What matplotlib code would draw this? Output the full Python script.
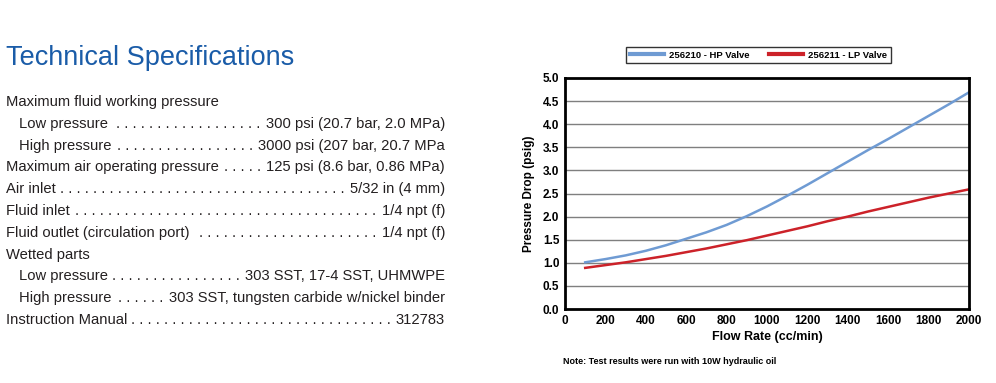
import numpy as np
import matplotlib
matplotlib.use("Agg")
import matplotlib.pyplot as plt
from matplotlib import font_manager

# font condensato se disponibile
nomi = set(f.name for f in font_manager.fontManager.ttflist)
if "Liberation Sans Narrow" in nomi:
    FONT = "Liberation Sans Narrow"
else:
    FONT = "Liberation Sans"
plt.rcParams['font.family'] = [FONT, 'DejaVu Sans']

# dati del grafico
portata = [100, 200, 300, 400, 500, 600, 700, 800, 900, 1000,
           1100, 1200, 1300, 1400, 1500, 1600, 1700, 1800, 1900, 2000]
hp_valve = [1.01, 1.08, 1.16, 1.26, 1.38, 1.52, 1.66, 1.82, 2.01, 2.22,
            2.45, 2.69, 2.94, 3.19, 3.44, 3.68, 3.93, 4.18, 4.43, 4.69]
lp_valve = [0.89, 0.95, 1.01, 1.08, 1.15, 1.23, 1.31, 1.40, 1.49, 1.59,
            1.69, 1.79, 1.90, 2.00, 2.11, 2.21, 2.31, 2.41, 2.50, 2.59]
x_ticks = [0, 200, 400, 600, 800, 1000, 1200, 1400, 1600, 1800, 2000]
y_ticks = [0.0, 0.5, 1.0, 1.5, 2.0, 2.5, 3.0, 3.5, 4.0, 4.5, 5.0]

# specifiche tecniche (etichetta, valore, rientro)
spec_label = ["Maximum fluid working pressure", "Low pressure", "High pressure",
              "Maximum air operating pressure", "Air inlet", "Fluid inlet",
              "Fluid outlet (circulation port)", "Wetted parts", "Low pressure",
              "High pressure", "Instruction Manual"]
spec_value = ["", "300 psi (20.7 bar, 2.0 MPa)", "3000 psi (207 bar, 20.7 MPa",
              "125 psi (8.6 bar, 0.86 MPa)", "5/32 in (4 mm)", "1/4 npt (f)",
              "1/4 npt (f)", "", "303 SST, 17-4 SST, UHMWPE",
              "303 SST, tungsten carbide w/nickel binder", "312783"]
spec_indent = [0, 1, 1, 0, 0, 0, 0, 0, 1, 1, 0]

W, H = 996, 383
fig = plt.figure(figsize=(W / 100, H / 100), dpi=100)
fig.patch.set_facecolor("white")

# titolo
fig.text(6 / W, 1 - 58 / H, "Technical Specifications", color="#1a5ca8",
         fontsize=19.5, va="center", ha="left")

# righe di testo
y0 = 102
passo = 21.8
fs = 10.6
fig.canvas.draw()
rend = fig.canvas.get_renderer()
x_dest = 445 / W
prova = fig.text(0, 0, ". " * 10, fontsize=fs)
w10 = prova.get_window_extent(rend).width / 10
prova.remove()
for i in range(len(spec_label)):
    y = 1 - (y0 + i * passo) / H
    xl = (6 + 13 * spec_indent[i]) / W
    t1 = fig.text(xl, y, spec_label[i], fontsize=fs, va="center", ha="left", color="#231f20")
    if spec_value[i] == "":
        continue
    t2 = fig.text(x_dest, y, spec_value[i], fontsize=fs, va="center", ha="right", color="#231f20")
    b1 = t1.get_window_extent(rend)
    b2 = t2.get_window_extent(rend)
    spazio = b2.x0 - b1.x1 - 4
    n = int(spazio / w10)
    if n > 0:
        fig.text((b2.x0 - 1) / W, y, ". " * n, fontsize=fs, va="center", ha="right", color="#231f20")

# grafico
ax = fig.add_axes([565 / W, 1 - 309 / H, 404 / W, 231 / H])
ax.plot(portata, hp_valve, color="#6f9bd3", lw=1.8, label="256210 - HP Valve")
ax.plot(portata, lp_valve, color="#cc2229", lw=1.8, label="256211 - LP Valve")
ax.set_xlim(0, 2000)
ax.set_ylim(0, 5)
ax.set_xticks(x_ticks)
ax.set_yticks(y_ticks)
ax.set_yticklabels(["%.1f" % v for v in y_ticks])
ax.tick_params(length=0, labelsize=8.5, pad=4)
for lab in ax.get_xticklabels() + ax.get_yticklabels():
    lab.set_fontweight("bold")
for v in y_ticks[1:-1]:
    ax.axhline(v, color="#7f7f7f", lw=1, zorder=0)
for s in ax.spines.values():
    s.set_linewidth(2)
    s.set_color("black")
ax.set_xlabel("Flow Rate (cc/min)", fontsize=9, fontweight="bold", labelpad=3)
ax.set_ylabel("Pressure Drop (psig)", fontsize=8.5, fontweight="bold", labelpad=6)

leg = fig.legend(loc="center", bbox_to_anchor=(758.5 / W, 1 - 55 / H), ncol=2,
                 fontsize=6.8, frameon=True, fancybox=False, handlelength=3.6,
                 columnspacing=2.0, borderpad=0.35, handletextpad=0.6)
leg.get_frame().set_edgecolor("black")
leg.get_frame().set_linewidth(1)
for t in leg.get_texts():
    t.set_fontweight("bold")
for l in leg.get_lines():
    l.set_linewidth(3)

fig.text(563 / W, 1 - 362 / H, "Note: Test results were run with 10W hydraulic oil",
         fontsize=6.5, fontweight="bold", va="center", ha="left")

fig.savefig("out.png", dpi=100)
